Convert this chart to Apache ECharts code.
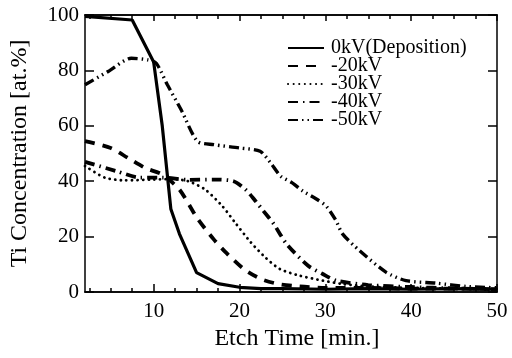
<!DOCTYPE html>
<html>
<head>
<meta charset="utf-8">
<script src="https://cdn.jsdelivr.net/npm/echarts@6/dist/echarts.min.js"></script>
<style>
  html, body { margin: 0; padding: 0; background: #fff; }
  #chart { width: 512px; height: 358px; }
</style>
</head>
<body>
<div id="chart"></div>
<script>
// Ti depth profiles
const seriesNames = ["0kV(Deposition)", "-20kV", "-30kV", "-40kV", "-50kV"];

const t0 = [2, 7.5, 10, 11, 12, 13, 15, 17.5, 20, 22.5, 25, 30, 35, 40, 45, 50];
const v0 = [99.5, 98.2, 83, 60, 30, 21, 7, 3, 1.7, 1.2, 1.2, 1.0, 1.2, 1.0, 1.2, 1.0];

const t20 = [2, 5, 7, 9, 11, 13, 15, 17, 18.5, 20.5, 22.5, 24.5, 27, 30, 35, 40, 45, 50];
const v20 = [54.5, 52, 48.4, 44.8, 42.4, 37, 27, 19, 14, 8.3, 4.7, 2.9, 2, 1.5, 1.5, 1.2, 1.2, 1];

const t30 = [2, 4.3, 6.6, 10, 12, 14, 16, 18, 19.5, 21.3, 23, 24.7, 27, 29.7, 32, 35, 40, 45, 50];
const v30 = [45.5, 41.3, 40.3, 40.6, 40.8, 40, 37, 31, 25, 18, 12.5, 8.3, 5.9, 4.1, 2.9, 2, 1.5, 1.2, 1];

const t40 = [2, 5.7, 8.4, 11, 14, 17, 19.3, 20.7, 21.7, 22.8, 24, 25.5, 28, 29.7, 31.3, 35, 40, 45, 50];
const v40 = [47, 43.6, 41.3, 41.3, 40.5, 40.6, 40, 37, 33.5, 29.2, 24.5, 17.3, 9.5, 6.5, 4.1, 2.5, 1.8, 1.3, 1];

const t50 = [2, 4.7, 7.4, 9.3, 10.3, 11.6, 13.2, 15.1, 17, 20, 22.4, 23.6, 24.8, 26.1, 27.4, 29, 30.1, 31.2, 32, 34, 37.1, 39.4, 42.9, 46.4, 50];
const v50 = [74.8, 79.6, 84.4, 83.8, 82.6, 74.8, 65.8, 54.4, 53.2, 52, 50.8, 46.7, 41.8, 39.5, 36.4, 33.5, 31, 26, 21, 14.9, 7.1, 4.1, 3.2, 2, 1.5];

const xMajorTicks = [10, 20, 30, 40, 50];
const xMinorTicks = [2.5, 5, 7.5, 12.5, 15, 17.5, 22.5, 25, 27.5, 32.5, 35, 37.5, 42.5, 45, 47.5];

const font = "Liberation Serif";
const ink = "#000";

const chart = echarts.init(document.getElementById("chart"), null, { renderer: "canvas" });

function pairs(ts, vs) {
  return ts.map((t, i) => [t, vs[i]]);
}

function xAx(position, ticks, len, withLabels) {
  return {
    type: "value",
    position: position,
    min: 2,
    max: 50,
    axisLine: { show: true, onZero: false, lineStyle: { color: ink, width: 1.5 } },
    axisTick: {
      show: true,
      inside: true,
      length: len,
      customValues: ticks,
      lineStyle: { color: ink, width: 1.5 },
    },
    axisLabel: withLabels
      ? { show: true, customValues: xMajorTicks, color: ink, fontFamily: font, fontSize: 21, margin: 9 }
      : { show: false },
    splitLine: { show: false },
  };
}

const lineStyles = [
  { width: 3.2, type: "solid" },
  { width: 3.8, type: [10, 8] },
  { width: 2.8, type: [0.1, 5.5], cap: "round" },
  { width: 3.8, type: [10, 5, 1.5, 5] },
  { width: 3.4, type: [10, 4, 1.5, 4, 1.5, 4] },
];
const dataSets = [pairs(t0, v0), pairs(t20, v20), pairs(t30, v30), pairs(t40, v40), pairs(t50, v50)];

chart.setOption({
  backgroundColor: "#fff",
  animation: false,
  grid: { left: 83, right: 15, top: 15, bottom: 66 },
  legend: {
    left: 287,
    top: 38,
    orient: "vertical",
    itemWidth: 36,
    itemHeight: 14,
    itemGap: -2,
    padding: 0,
    itemStyle: { opacity: 0 },
    textStyle: { color: ink, fontFamily: font, fontSize: 20, padding: [0, 0, 0, 2] },
    data: seriesNames,
  },
  xAxis: [
    Object.assign(xAx("bottom", xMajorTicks, 8, true), {
      name: "Etch Time [min.]",
      nameLocation: "middle",
      nameGap: 28,
      nameTextStyle: { color: ink, fontFamily: font, fontSize: 24, padding: [0, 0, 0, 12] },
    }),
    xAx("bottom", xMinorTicks, 4, false),
    xAx("top", xMajorTicks, 6, false),
    xAx("top", xMinorTicks, 4, false),
  ],
  yAxis: [
    {
      type: "value",
      position: "left",
      min: 0,
      max: 100,
      interval: 20,
      name: "Ti Concentration [at.%]",
      nameLocation: "middle",
      nameGap: 53,
      nameTextStyle: { color: ink, fontFamily: font, fontSize: 24 },
      axisLine: { show: true, lineStyle: { color: ink, width: 1.5 } },
      axisTick: { show: true, inside: true, length: 9, lineStyle: { color: ink, width: 1.5 } },
      axisLabel: { color: ink, fontFamily: font, fontSize: 21, margin: 6 },
      splitLine: { show: false },
    },
    {
      type: "value",
      position: "right",
      min: 0,
      max: 100,
      interval: 20,
      axisLine: { show: true, lineStyle: { color: ink, width: 1.5 } },
      axisTick: { show: true, inside: true, length: 9, lineStyle: { color: ink, width: 1.5 } },
      axisLabel: { show: false },
      splitLine: { show: false },
    },
  ],
  series: seriesNames.map((name, i) => ({
    name: name,
    type: "line",
    xAxisIndex: 0,
    yAxisIndex: 0,
    data: dataSets[i],
    showSymbol: false,
    symbol: "none",
    smooth: i === 0 ? false : 0.25,
    itemStyle: { color: ink },
    lineStyle: Object.assign({ color: ink }, lineStyles[i]),
  })),
});
</script>
</body>
</html>
